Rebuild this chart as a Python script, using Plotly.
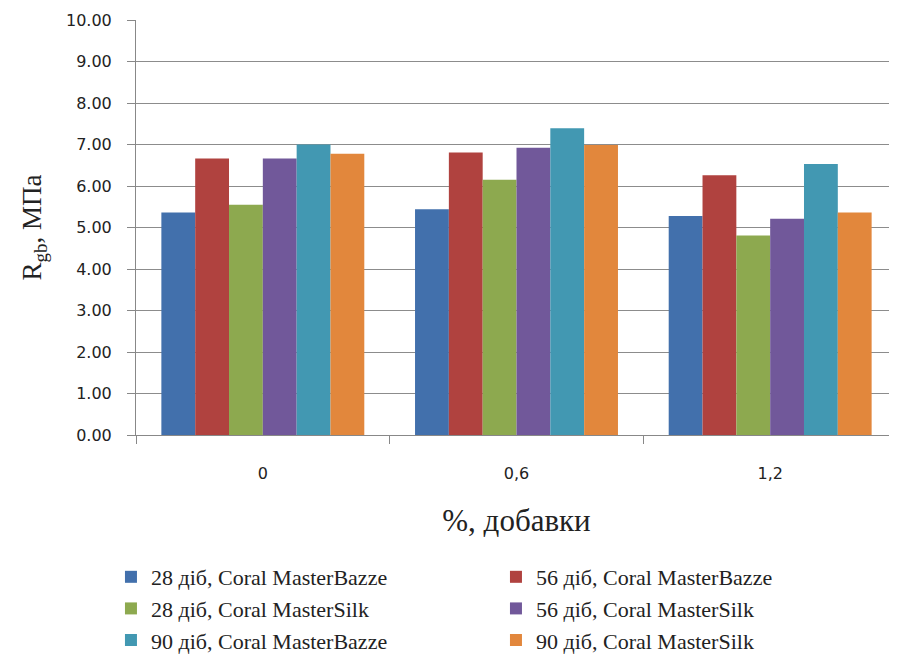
import plotly.graph_objects as go

categories = ["0", "0,6", "1,2"]
series_names = [
    "28 діб, Coral MasterBazze",
    "56 діб, Coral MasterBazze",
    "28 діб, Coral MasterSilk",
    "56 діб, Coral MasterSilk",
    "90 діб, Coral MasterBazze",
    "90 діб, Coral MasterSilk",
]
v_28_bazze = [5.36, 5.44, 5.28]
v_56_bazze = [6.66, 6.81, 6.26]
v_28_silk = [5.55, 6.15, 4.81]
v_56_silk = [6.66, 6.92, 5.21]
v_90_bazze = [7.00, 7.39, 6.53]
v_90_silk = [6.78, 6.99, 5.36]
series_values = [v_28_bazze, v_56_bazze, v_28_silk, v_56_silk, v_90_bazze, v_90_silk]
colors = ["#4270AC", "#B0423F", "#8DA94F", "#71589A", "#4298B2", "#E2873C"]
y_ticks = [0, 1, 2, 3, 4, 5, 6, 7, 8, 9, 10]

fig = go.Figure()
for name, vals, col in zip(series_names, series_values, colors):
    fig.add_trace(go.Bar(x=categories, y=vals, name=name, marker_color=col,
                         marker_line_width=0))

serif = "Liberation Serif, Times New Roman, serif"
sans = "DejaVu Sans, Verdana, sans-serif"

# page body has an 8px margin, so the figure is sized 8px smaller each way
fig.update_layout(
    width=889, height=658,
    margin=dict(l=128, r=0, t=12, b=231, autoexpand=False),
    paper_bgcolor="white", plot_bgcolor="white",
    barmode="group", bargap=0.2, bargroupgap=0,
    showlegend=True,
    legend=dict(orientation="h", x=-0.0329, xanchor="left", y=-0.2916, yanchor="top",
                font=dict(family=serif, size=22, color="#222222"),
                entrywidth=340, entrywidthmode="pixels",
                itemwidth=30, bgcolor="rgba(0,0,0,0)"),
    xaxis=dict(
        type="category", showgrid=False, showline=True, linecolor="#888888", linewidth=1,
        ticks="outside", tickson="boundaries", ticklen=8, tickcolor="#888888",
        tickfont=dict(family=sans, size=16, color="#222222"),
        ticklabelstandoff=24,
        title=dict(text="%, добавки", font=dict(family=serif, size=31, color="#222222"),
                   standoff=27),
    ),
    yaxis=dict(
        range=[0, 10], tickvals=y_ticks, tickformat=".2f",
        showgrid=True, gridcolor="#8c8c8c", gridwidth=1,
        showline=True, linecolor="#888888", linewidth=1,
        ticks="outside", ticklen=8, tickcolor="#888888",
        tickfont=dict(family=sans, size=16, color="#222222"),
        ticklabelstandoff=12, zeroline=False,
        title=dict(text="R<sub>gb</sub>, МПа", font=dict(family=serif, size=27, color="#222222"),
                   standoff=16),
    ),
)

fig.write_html("out.html")
